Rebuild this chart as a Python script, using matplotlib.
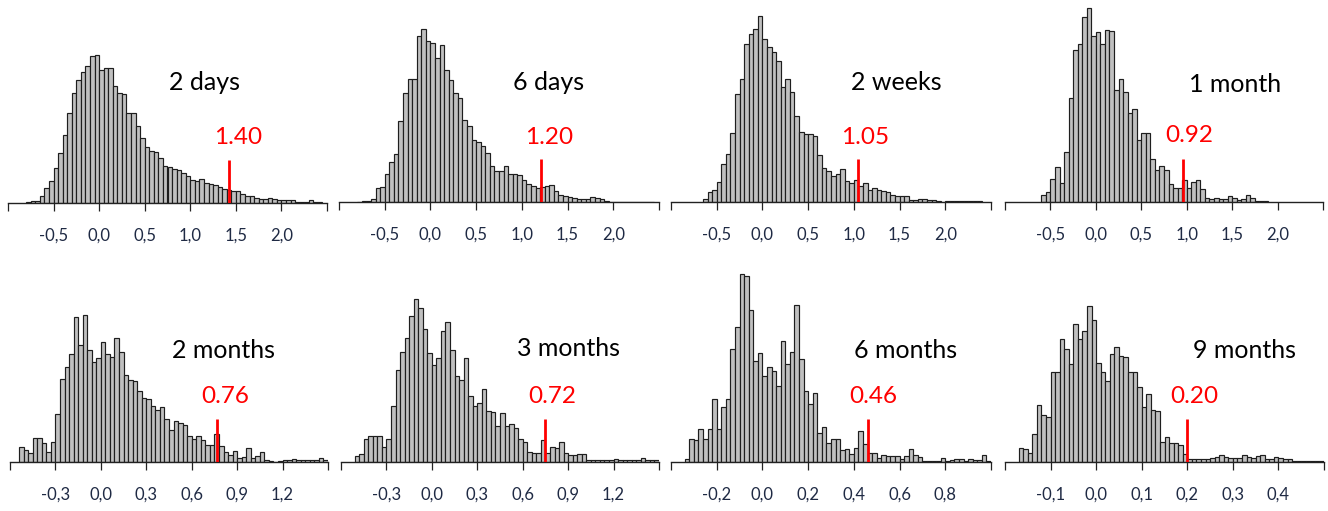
import matplotlib
matplotlib.use("Agg")
import matplotlib.pyplot as plt
import numpy as np

plt.rcParams['font.family'] = ['Lato', 'DejaVu Sans']

# ---------------- data ----------------
titles = ["2 days", "6 days", "2 weeks", "1 month",
          "2 months", "3 months", "6 months", "9 months"]
threshold_labels = ["1.40", "1.20", "1.05", "0.92", "0.76", "0.72", "0.46", "0.20"]
threshold_pos = [1.42, 1.21, 1.04, 0.96, 0.77, 0.75, 0.46, 0.20]

bin_width = [0.05, 0.05, 0.05, 0.05, 0.03, 0.03, 0.02, 0.01]
first_bin = [-0.80, -0.80, -0.65, -0.60, -0.54, -0.51, -0.34, -0.17]

counts_2d = [2, 5, 6, 20, 44, 66, 106, 151, 204, 269, 330, 369, 394, 412, 440, 444,
             400, 404, 404, 350, 330, 328, 269, 269, 231, 194, 169, 156, 152, 136,
             112, 107, 103, 100, 89, 82, 69, 67, 72, 60, 57, 55, 47, 42, 40, 35, 35,
             27, 22, 22, 14, 12, 11, 14, 12, 10, 8, 8, 8, 4, 4, 4, 8, 4, 4]
counts_6d = [0, 2, 4, 10, 42, 45, 85, 120, 145, 242, 327, 370, 370, 497, 520, 482,
             477, 432, 470, 395, 367, 327, 312, 247, 227, 187, 180, 167, 147, 107,
             92, 92, 107, 85, 85, 80, 65, 55, 47, 42, 45, 47, 52, 32, 20, 17, 15, 13,
             10, 8, 10, 14, 12, 8, 3, 1, 1, 1, 1, 1, 1, 1, 1, 1, 1]
counts_2w = [8, 30, 35, 60, 115, 145, 207, 325, 370, 475, 505, 518, 557, 490, 465,
             450, 422, 345, 368, 330, 258, 210, 205, 205, 197, 142, 102, 92, 77, 85,
             100, 62, 57, 65, 47, 57, 37, 43, 37, 32, 30, 20, 17, 17, 17, 7, 5, 8, 10,
             7, 5, 2, 0, 2, 2, 2, 2, 2, 2, 2, 2]
counts_1m = [20, 30, 70, 105, 57, 150, 312, 455, 475, 555, 582, 498, 511, 473, 515,
             513, 336, 370, 331, 268, 278, 186, 206, 206, 128, 95, 108, 95, 53, 43,
             43, 66, 43, 61, 65, 38, 13, 10, 12, 10, 10, 17, 12, 7, 10, 22, 12, 3, 3, 3]
counts_2m = [45, 37, 27, 72, 72, 57, 30, 60, 145, 248, 285, 325, 435, 350, 442, 335,
             300, 313, 360, 325, 315, 372, 330, 262, 245, 242, 213, 193, 188, 168,
             155, 165, 130, 97, 123, 118, 112, 77, 70, 78, 65, 50, 50, 85, 47, 30, 20,
             32, 13, 15, 42, 13, 18, 30, 5, 3, 0, 4, 5, 6, 8, 5, 5, 5, 5, 5, 11, 5]
counts_3m = [17, 24, 69, 79, 79, 79, 45, 69, 167, 275, 330, 372, 439, 489, 462, 399,
             327, 292, 312, 394, 419, 335, 257, 247, 312, 197, 167, 177, 219, 152,
             149, 109, 147, 109, 115, 102, 69, 59, 30, 27, 27, 65, 27, 45, 42, 60, 27,
             22, 20, 24, 24, 5, 5, 5, 5, 5, 5, 10, 5, 5, 5, 5, 5, 12, 5, 5, 5]
counts_6m = [10, 70, 67, 100, 70, 100, 188, 98, 165, 188, 340, 405, 563, 557, 455,
             302, 328, 258, 285, 272, 228, 362, 293, 330, 470, 308, 212, 175, 208, 88,
             105, 57, 70, 70, 37, 40, 25, 43, 92, 55, 28, 28, 12, 22, 17, 17, 17, 10,
             17, 40, 22, 15, 3, 3, 3, 3, 13, 3, 7, 10, 10, 3, 10, 7, 7, 20, 3]
counts_9m = [43, 40, 28, 85, 170, 140, 135, 270, 270, 370, 340, 295, 415, 370, 393,
             467, 427, 297, 270, 242, 325, 345, 318, 315, 270, 270, 225, 165, 205, 155,
             152, 60, 75, 57, 57, 50, 25, 8, 8, 8, 8, 8, 12, 16, 21, 16, 12, 12, 12,
             21, 16, 12, 18, 21, 8, 8, 14, 12, 9, 8, 4, 4, 4, 4, 4, 4, 4, 4, 4, 4]
all_counts = [counts_2d, counts_6d, counts_2w, counts_1m,
              counts_2m, counts_3m, counts_6m, counts_9m]

x_limits = [(-1.0, 2.5), (-1.0, 2.5), (-1.0, 2.5), (-1.0, 2.5),
            (-0.6, 1.5), (-0.6, 1.5), (-0.4, 1.0), (-0.2, 0.5)]
tick_values = [[-1.0, -0.5, 0.0, 0.5, 1.0, 1.5, 2.0, 2.5]] * 4 + \
              [[-0.6, -0.3, 0.0, 0.3, 0.6, 0.9, 1.2, 1.5]] * 2 + \
              [[-0.4, -0.2, 0.0, 0.2, 0.4, 0.6, 0.8, 1.0],
               [-0.2, -0.1, 0.0, 0.1, 0.2, 0.3, 0.4, 0.5]]
tick_text = [["", "-0,5", "0,0", "0,5", "1,0", "1,5", "2,0", ""]] * 4 + \
            [["", "-0,3", "0,0", "0,3", "0,6", "0,9", "1,2", ""]] * 2 + \
            [["", "-0,2", "0,0", "0,2", "0,4", "0,6", "0,8", ""],
             ["", "-0,1", "0,0", "0,1", "0,2", "0,3", "0,4", ""]]

# ---------------- layout (pixels) ----------------
W, H = 1328, 511
fig = plt.figure(figsize=(W / 100, H / 100), dpi=100)

ax_left = [8, 339, 671, 1005, 10, 341, 671, 1005]
ax_width = [319, 320, 320, 318, 318, 318, 320, 319]
ax_base = [203, 202, 202, 202, 462, 462, 462, 462]
ax_h = 200
title_pos = [(0.617, 0.605), (0.656, 0.60), (0.703, 0.60), (0.723, 0.59),
             (0.67, 0.56), (0.714, 0.57), (0.734, 0.56), (0.75, 0.56)]
label_pos = [(0.721, 0.33), (0.656, 0.325), (0.606, 0.325), (0.58, 0.33),
             (0.676, 0.33), (0.663, 0.33), (0.631, 0.33), (0.592, 0.33)]
marker_height = 130

for i in range(8):
    ax = fig.add_axes([ax_left[i] / W, (H - ax_base[i]) / H,
                       ax_width[i] / W, ax_h / H])
    c = np.array(all_counts[i], dtype=float)
    edges = first_bin[i] + bin_width[i] * np.arange(len(c))
    ax.bar(edges, c, width=bin_width[i], align='edge',
           color='#C0C0C0', edgecolor='#1e1e1e', linewidth=0.85)
    ax.plot([threshold_pos[i], threshold_pos[i]], [0, marker_height],
            color='#FF0000', linewidth=2.0, solid_capstyle='butt', zorder=5)
    ax.set_xlim(*x_limits[i])
    ax.set_ylim(0, 600)
    ax.set_xticks(tick_values[i])
    ax.set_xticklabels(tick_text[i], fontsize=12, color='#1f2a44')
    ax.tick_params(axis='x', direction='out', length=6, width=0.9,
                   color='#222222', pad=12)
    ax.set_yticks([])
    for s in ['left', 'right', 'top']:
        ax.spines[s].set_visible(False)
    ax.spines['bottom'].set_linewidth(1.0)
    ax.spines['bottom'].set_color('#222222')
    ax.text(title_pos[i][0], title_pos[i][1], titles[i], transform=ax.transAxes,
            ha='center', va='center', fontsize=18, color='black')
    ax.text(label_pos[i][0], label_pos[i][1], threshold_labels[i],
            transform=ax.transAxes, ha='center', va='center',
            fontsize=17.5, color='#FF0000')

fig.savefig("out.png", dpi=100)
